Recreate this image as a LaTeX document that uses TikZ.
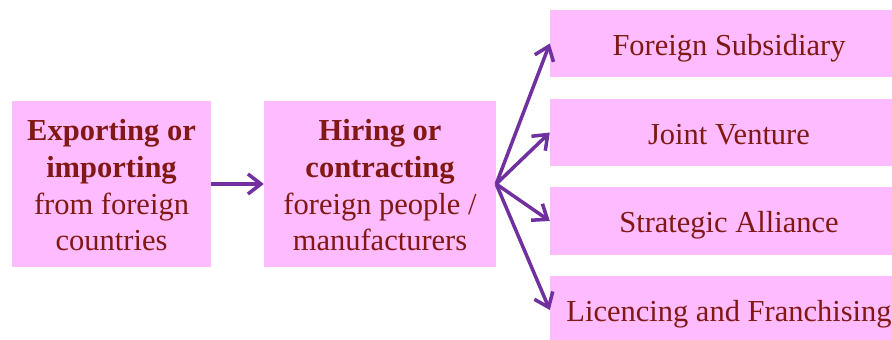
\documentclass[tikz,border=0pt]{standalone}
\usepackage{fontspec}
\setmainfont{Liberation Serif}
\usetikzlibrary{arrows.meta}
\definecolor{boxpink}{RGB}{255,187,255}
\definecolor{textred}{RGB}{128,24,20}
\definecolor{arrowpurple}{RGB}{112,48,160}
\begin{document}
\begin{tikzpicture}[x=1pt,y=-1pt,
  box/.style={fill=boxpink, draw=none, inner sep=0pt},
  txt/.style={text=textred, inner sep=0pt,
    font=\fontsize{30.5}{36.7}\selectfont, align=center},
  link/.style={draw=arrowpurple, line width=3.5pt,
    -{Straight Barb[length=13pt,width=20pt,line width=3.5pt]}}]
\useasboundingbox (0,0) rectangle (892,340);
% left and middle stages
\node[box, minimum width=199pt, minimum height=166pt] (exp) at (111.5,184) {};
\node[txt, yshift=-1.5pt] (expt) at (exp.center)
  {\textbf{Exporting or}\\\textbf{importing}\\from foreign\\countries};
\node[box, minimum width=232pt, minimum height=166pt] (hire) at (380,184) {};
\node[txt, yshift=-1.5pt] (hiret) at (hire.center)
  {\textbf{Hiring or}\\\textbf{contracting}\\foreign people /\\manufacturers};
% right-hand options, running off the right edge
\begin{scope}
\clip (0,0) rectangle (892,340);
\node[box, minimum width=358pt, minimum height=67pt] (sub) at (729,43.5) {};
\node[box, minimum width=358pt, minimum height=67pt] (jv) at (729,132.5) {};
\node[box, minimum width=358pt, minimum height=68pt] (sa) at (729,221) {};
\node[box, minimum width=358pt, minimum height=68pt] (lf) at (729,310) {};
\end{scope}
\node[txt, anchor=base] (subt) at ([yshift=-11.5pt]sub.center) {Foreign Subsidiary};
\node[txt, anchor=base] (jvt) at ([yshift=-11.5pt]jv.center) {Joint Venture};
\node[txt, anchor=base] (sat) at ([yshift=-11.5pt]sa.center) {Strategic Alliance};
\node[txt, anchor=base] (lft) at ([yshift=-11.5pt]lf.center) {Licencing and Franchising};
% connectors
\draw[link] (exp.east) -- (hire.west);
\coordinate (fan) at (hire.east);
\draw[link] (fan) -- (sub.west);
\draw[link] (fan) -- (jv.west);
\draw[link] (fan) -- (sa.west);
\draw[link] (fan) -- (lf.west);
\end{tikzpicture}
\end{document}
